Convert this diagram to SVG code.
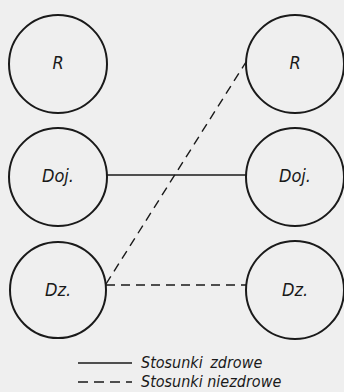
<svg xmlns="http://www.w3.org/2000/svg" width="344" height="392" viewBox="0 0 344 392">
<style>
.n circle{fill:none;stroke:#1a1a1a;stroke-width:2}
text{font-family:"DejaVu Sans Condensed","DejaVu Sans",sans-serif;font-style:italic;fill:#1a1a1a}
.lbl{font-size:18px;text-anchor:middle}
.leg{font-size:16px}
.solid{stroke:#1a1a1a;stroke-width:1.4;fill:none}
.dash{stroke:#1a1a1a;stroke-width:1.4;fill:none;stroke-dasharray:9 6}
</style>
<rect width="344" height="392" fill="#efefef"/>
<g id="L-R" class="n"><circle cx="58" cy="64" r="49"/><text class="lbl" x="58" y="69">R</text></g>
<g id="L-Doj" class="n"><circle cx="58" cy="177" r="49"/><text class="lbl" x="58" y="182">Doj.</text></g>
<g id="L-Dz" class="n"><circle cx="58" cy="290" r="48"/><text class="lbl" x="58" y="296">Dz.</text></g>
<g id="R-R" class="n"><circle cx="295" cy="64" r="49"/><text class="lbl" x="295" y="69">R</text></g>
<g id="R-Doj" class="n"><circle cx="295" cy="177" r="49"/><text class="lbl" x="295" y="182">Doj.</text></g>
<g id="R-Dz" class="n"><circle cx="295" cy="290" r="49"/><text class="lbl" x="295" y="296">Dz.</text></g>
<g id="connectors">
<line class="solid" x1="106" y1="175" x2="246" y2="175"/>
<line class="dash" x1="106" y1="285" x2="246" y2="285"/>
<line class="dash" x1="106" y1="284" x2="246" y2="62"/>
</g>
<g id="legend">
<line class="solid" x1="78" y1="363" x2="132" y2="363"/>
<text class="leg" x="141" y="368" word-spacing="3">Stosunki zdrowe</text>
<line class="dash" x1="78" y1="382" x2="132" y2="382" style="stroke-dasharray:10 6"/>
<text class="leg" x="141" y="387">Stosunki niezdrowe</text>
</g>
</svg>
